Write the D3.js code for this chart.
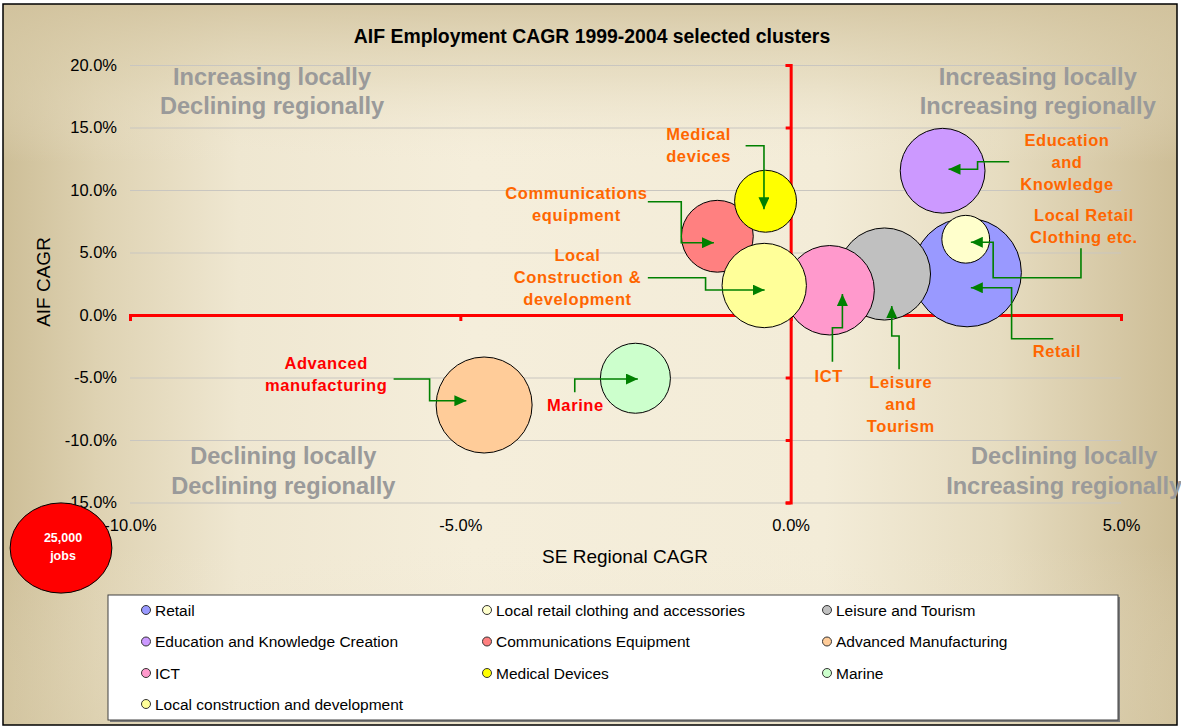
<!DOCTYPE html>
<html>
<head>
<meta charset="utf-8">
<script src="https://cdn.jsdelivr.net/npm/d3@7"></script>
<style>
  html, body { margin: 0; padding: 0; background: #ffffff; }
  svg { display: block; }
  text { font-family: "Liberation Sans", Arial, sans-serif; }
</style>
</head>
<body>
<svg id="chart" width="1181" height="727"></svg>
<script>
// ---------------- data ----------------
const categories = [
  "Retail",
  "Local retail clothing and accessories",
  "Leisure and Tourism",
  "Education and Knowledge Creation",
  "Communications Equipment",
  "Advanced Manufacturing",
  "ICT",
  "Medical Devices",
  "Marine",
  "Local construction and development"
];
const regionalCAGR = [2.67, 2.65, 1.42, 2.30, -1.11, -4.64, 0.59, -0.38, -2.35, -0.40];   // SE Regional CAGR (%)
const localCAGR    = [3.40, 6.06, 3.28, 11.54, 6.30, -7.20, 1.98, 9.10, -5.06, 2.36];     // AIF CAGR (%)
const employment   = [32000, 6200, 23000, 19500, 14000, 25000, 21700, 10400, 13300, 19300]; // jobs (bubble size)
const seriesColors = ["#9999FF", "#FFFFCC", "#C0C0C0", "#CC99FF", "#FF8080", "#FFCC99", "#FF99CC", "#FFFF00", "#CCFFCC", "#FFFF99"];

const xTickValues = [-10, -5, 0, 5];
const yTickValues = [20, 15, 10, 5, 0, -5, -10, -15];
const chartTitle = "AIF Employment CAGR 1999-2004 selected clusters";
const xAxisTitle = "SE Regional CAGR";
const yAxisTitle = "AIF CAGR";
const sizeKeyJobs = 25000;
const sizeKeyLines = ["25,000", "jobs"];

const quadrantLabels = [
  { lines: ["Increasing locally", "Declining regionally"], x: -7.85, y: 17.92 },
  { lines: ["Increasing locally", "Increasing regionally"], x: 3.74, y: 17.92 },
  { lines: ["Declining locally", "Declining regionally"], x: -7.68, y: -12.44 },
  { lines: ["Declining locally", "Increasing regionally"], x: 4.14, y: -12.44 }
];

// callouts: label block centre and connector route, in data units (%)
const callouts = [
  { lines: ["Medical", "devices"], color: "#FF6600", x: -1.394, y: 13.6,
    route: [[-0.682, 13.54], [-0.404, 13.54], [-0.404, 8.46]] },
  { lines: ["Communications", "equipment"], color: "#FF6600", x: -3.242, y: 8.9,
    route: [[-2.162, 9.06], [-1.656, 9.06], [-1.656, 5.78], [-1.162, 5.78]] },
  { lines: ["Local", "Construction &", "development"], color: "#FF6600", x: -3.227, y: 3.0,
    route: [[-2.162, 2.98], [-1.288, 2.98], [-1.288, 2.0], [-0.394, 2.0]] },
  { lines: ["Education", "and", "Knowledge"], color: "#FF6600", x: 4.182, y: 12.24,
    route: [[3.308, 12.26], [2.829, 12.26], [2.829, 11.66], [2.389, 11.66]] },
  { lines: ["Local Retail", "Clothing etc."], color: "#FF6600", x: 4.439, y: 7.12,
    route: [[4.394, 5.34], [4.394, 2.98], [3.065, 2.98], [3.065, 5.82], [2.727, 5.82]] },
  { lines: ["Retail"], color: "#FF6600", x: 4.03, y: -2.9,
    route: [[3.975, -1.90], [3.344, -1.90], [3.344, 2.18], [2.727, 2.18]] },
  { lines: ["ICT"], color: "#FF6600", x: 0.576, y: -4.86,
    route: [[0.632, -3.74], [0.632, -1.02], [0.783, -1.02], [0.783, 1.68]] },
  { lines: ["Leisure", "and", "Tourism"], color: "#FF6600", x: 1.667, y: -7.12,
    route: [[1.641, -4.34], [1.641, -1.68], [1.530, -1.68], [1.530, 0.72]] },
  { lines: ["Advanced", "manufacturing"], color: "#FF0000", x: -7.03, y: -4.72,
    route: [[-6.010, -5.12], [-5.465, -5.12], [-5.465, -6.86], [-4.909, -6.86]] },
  { lines: ["Marine"], color: "#FF0000", x: -3.258, y: -7.2,
    route: [[-3.268, -6.18], [-3.268, -5.12], [-2.313, -5.12]] }
];

// ---------------- drawing ----------------
const svg = d3.select("#chart");
const defs = svg.append("defs");

// background gradients
const hg = defs.append("linearGradient").attr("id", "bgH").attr("x1", 0).attr("x2", 1).attr("y1", 0).attr("y2", 0);
[[0, "#CDBE97"], [0.08, "#DED2B2"], [0.2, "#EFE7D1"], [0.4, "#F5EEDB"], [0.7, "#F3ECD8"], [0.85, "#E6DCC0"], [1, "#CDBD96"]]
  .forEach(([o, c]) => hg.append("stop").attr("offset", o).attr("stop-color", c));
const vg = defs.append("linearGradient").attr("id", "bgV").attr("x1", 0).attr("x2", 0).attr("y1", 0).attr("y2", 1);
[[0, "#D2C39E", 0.85], [0.1, "#DCD0AF", 0.5], [0.22, "#F2EAD6", 0], [0.75, "#F2EAD6", 0], [1, "#DCD0AF", 0.35]]
  .forEach(([o, c, a]) => vg.append("stop").attr("offset", o).attr("stop-color", c).attr("stop-opacity", a));

svg.append("rect").attr("x", 3).attr("y", 4).attr("width", 1174).attr("height", 721).attr("fill", "url(#bgH)");
svg.append("rect").attr("x", 3).attr("y", 4).attr("width", 1174).attr("height", 721).attr("fill", "url(#bgV)");
svg.append("rect").attr("x", 3).attr("y", 4).attr("width", 1174).attr("height", 721)
  .attr("fill", "none").attr("stroke", "#000").attr("stroke-width", 1.5);

// scales
const x = d3.scaleLinear().domain([-10, 5]).range([130, 1121]);
const y = d3.scaleLinear().domain([-15, 20]).range([502.5, 65]);
const r = d3.scaleSqrt().domain([0, sizeKeyJobs]).range([0, 48]);
const fmt = d => d.toFixed(1) + "%";

// gridlines
const grid = svg.append("g").attr("transform", `translate(${x(-10)},0)`)
  .call(d3.axisLeft(y).tickValues(yTickValues).tickSize(-(x(5) - x(-10))).tickFormat(""));
grid.select(".domain").remove();
grid.selectAll("line").attr("stroke", "#C9C6C0").attr("stroke-width", 1);

// tick labels
const yLab = svg.append("g").attr("transform", `translate(${x(-10)},0)`)
  .call(d3.axisLeft(y).tickValues(yTickValues).tickSize(0).tickPadding(13).tickFormat(fmt));
yLab.select(".domain").remove();
yLab.selectAll("text").attr("font-size", 16.5).attr("fill", "#000")
  .attr("font-family", "'Liberation Sans', Arial, sans-serif");

const xLab = svg.append("g").attr("transform", `translate(0,${y(-15)})`)
  .call(d3.axisBottom(x).tickValues(xTickValues).tickSize(0).tickPadding(17).tickFormat(fmt));
xLab.select(".domain").remove();
xLab.selectAll("text").attr("font-size", 16.5).attr("fill", "#000")
  .attr("font-family", "'Liberation Sans', Arial, sans-serif");

// red cross axes
const xAx = svg.append("g").attr("transform", `translate(0,${y(0)})`)
  .call(d3.axisBottom(x).tickValues(xTickValues).tickSizeInner(6).tickSizeOuter(6).tickFormat(""));
xAx.selectAll("path, line").attr("stroke", "#FF0000").attr("stroke-width", 3);
const yAx = svg.append("g").attr("transform", `translate(${x(0)},0)`)
  .call(d3.axisLeft(y).tickValues(yTickValues).tickSizeInner(5).tickSizeOuter(5).tickFormat(""));
yAx.selectAll("path, line").attr("stroke", "#FF0000").attr("stroke-width", 3);

// quadrant texts
quadrantLabels.forEach(q => {
  const n = q.lines.length, lh = 29.5;
  q.lines.forEach((t, i) => {
    svg.append("text")
      .attr("x", x(q.x))
      .attr("y", y(q.y) + (i - (n - 1) / 2) * lh)
      .attr("dy", "0.36em")
      .attr("text-anchor", "middle")
      .attr("font-size", 23.6).attr("font-weight", "bold")
      .attr("fill", "#9A9A9A")
      .text(t);
  });
});

// title & axis titles
svg.append("text").attr("x", 592).attr("y", 43).attr("text-anchor", "middle")
  .attr("font-size", 19.4).attr("font-weight", "bold").attr("fill", "#000").text(chartTitle);
svg.append("text").attr("x", 625).attr("y", 563).attr("text-anchor", "middle")
  .attr("font-size", 19).attr("fill", "#000").text(xAxisTitle);
svg.append("text").attr("transform", "translate(50,282) rotate(-90)").attr("text-anchor", "middle")
  .attr("font-size", 19).attr("fill", "#000").text(yAxisTitle);

// bubbles
const data = categories.map((c, i) => ({
  name: c, rx: regionalCAGR[i], ly: localCAGR[i], jobs: employment[i], color: seriesColors[i]
}));
svg.append("g").selectAll("circle").data(data).join("circle")
  .attr("cx", d => x(d.rx)).attr("cy", d => y(d.ly)).attr("r", d => r(d.jobs))
  .attr("fill", d => d.color).attr("stroke", "#000").attr("stroke-width", 1);

// arrow marker
defs.append("marker").attr("id", "arrow")
  .attr("viewBox", "0 0 12 11").attr("refX", 12).attr("refY", 5.5)
  .attr("markerWidth", 12).attr("markerHeight", 11)
  .attr("markerUnits", "userSpaceOnUse").attr("orient", "auto")
  .append("path").attr("d", "M0,0 L12,5.5 L0,11 Z").attr("fill", "#008000");

const line = d3.line().x(p => x(p[0])).y(p => y(p[1]));
callouts.forEach(c => {
  svg.append("path").attr("d", line(c.route)).attr("fill", "none")
    .attr("stroke", "#008000").attr("stroke-width", 1.6)
    .attr("marker-end", "url(#arrow)");
  const n = c.lines.length, lh = 22;
  c.lines.forEach((t, i) => {
    svg.append("text")
      .attr("x", x(c.x))
      .attr("y", y(c.y) + (i - (n - 1) / 2) * lh)
      .attr("dy", "0.36em")
      .attr("text-anchor", "middle")
      .attr("font-size", 16.5).attr("font-weight", "bold")
      .attr("letter-spacing", 0.6)
      .attr("fill", c.color)
      .text(t);
  });
});

// size key ellipse
const rk = r(sizeKeyJobs);
svg.append("ellipse").attr("cx", 61).attr("cy", 548).attr("rx", rk * 1.06).attr("ry", rk * 0.94)
  .attr("fill", "#FF0000").attr("stroke", "#000").attr("stroke-width", 1);
sizeKeyLines.forEach((t, i) => {
  svg.append("text").attr("x", 63).attr("y", 537 + i * 18).attr("dy", "0.36em")
    .attr("text-anchor", "middle").attr("font-size", 12.5).attr("font-weight", "bold")
    .attr("fill", "#fff").text(t);
});

// legend
svg.append("rect").attr("x", 110).attr("y", 597).attr("width", 1010).attr("height", 125).attr("fill", "#7a7a7a");
svg.append("rect").attr("x", 108).attr("y", 595).attr("width", 1010).attr("height", 125)
  .attr("fill", "#fff").attr("stroke", "#404040").attr("stroke-width", 1);
const colX = [146, 487, 827];
const rowY = [610, 641.5, 673, 704];
const lg = svg.append("g").selectAll("g").data(data).join("g")
  .attr("transform", (d, i) => `translate(${colX[i % 3]},${rowY[Math.floor(i / 3)]})`);
lg.append("circle").attr("r", 4.5).attr("fill", d => d.color).attr("stroke", "#333").attr("stroke-width", 1);
lg.append("text").attr("x", 9).attr("dy", "0.36em").attr("font-size", 15.5).attr("fill", "#000").text(d => d.name);
</script>
</body>
</html>
